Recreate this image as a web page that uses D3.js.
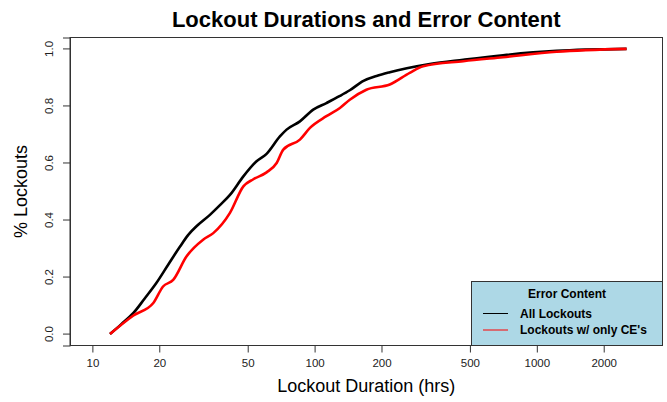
<!DOCTYPE html>
<html>
<head>
<meta charset="utf-8">
<script src="https://cdn.jsdelivr.net/npm/d3@7"></script>
<style>
  body { margin: 0; background: #fff; }
  svg { display: block; font-family: "Liberation Sans", Arial, Helvetica, sans-serif; }
</style>
</head>
<body>
<div id="chart"></div>
<script>
// ECDF readings, all lockouts
const allHours = [12.0, 13.5, 15.3, 17.2, 19.4, 22.0, 24.8, 27.0, 29.4, 33.8, 37.5, 41.6, 47.8, 54.8, 60.8, 69.8, 74.8, 85.9, 98.6, 113, 130, 144, 166, 190, 218, 260, 330, 467, 705, 1227, 2535]
const allFrac = [0.0, 0.035, 0.074, 0.125, 0.179, 0.245, 0.307, 0.348, 0.378, 0.418, 0.452, 0.488, 0.553, 0.606, 0.632, 0.693, 0.717, 0.746, 0.787, 0.81, 0.835, 0.855, 0.888, 0.905, 0.918, 0.932, 0.947, 0.962, 0.978, 0.993, 1.0]

// lockouts with only CE's
const ceHours = [12.0, 15.3, 18.8, 20.8, 23.1, 26.5, 31.5, 35.0, 41.6, 47.8, 53.0, 60.8, 67.5, 72.3, 85.9, 95.3, 113, 130, 144, 171, 218, 268, 308, 467, 705, 1227, 2535]
const ceFrac = [0.0, 0.065, 0.109, 0.167, 0.19, 0.272, 0.331, 0.354, 0.425, 0.518, 0.543, 0.567, 0.6, 0.647, 0.682, 0.723, 0.764, 0.793, 0.822, 0.857, 0.875, 0.916, 0.939, 0.957, 0.971, 0.99, 1.0]

const xTicks = [10, 20, 50, 100, 200, 500, 1000, 2000]
const yTicks = [0, 0.2, 0.4, 0.6, 0.8, 1.0]

const legendLabels = ['All Lockouts', "Lockouts w/ only CE's"]
const seriesColors = ['#000000', '#ff0000']

const width = 667
const height = 402
const margin = { top: 37.5, right: 4.5, bottom: 56.5, left: 70 }
const plotW = width - margin.left - margin.right
const plotH = height - margin.top - margin.bottom

const svg = d3.select('#chart')
  .append('svg')
  .attr('width', width)
  .attr('height', height)

const g = svg.append('g')
  .attr('transform', `translate(${margin.left},${margin.top})`)

// R-style 4% padding on the log range
const x = d3.scaleLog()
  .domain([7.93, 3678])
  .range([0, plotW])

const y = d3.scaleLinear()
  .domain([-0.04, 1.04])
  .range([plotH, 0])

const line = d3.line()
  .x(d => x(d[0]))
  .y(d => y(d[1]))
  .curve(d3.curveMonotoneX)

const series = [
  allHours.map((h, i) => [h, allFrac[i]]),
  ceHours.map((h, i) => [h, ceFrac[i]])
]

series.forEach((s, i) => {
  g.append('path')
    .datum(s)
    .attr('fill', 'none')
    .attr('stroke', seriesColors[i])
    .attr('stroke-width', 2.6)
    .attr('stroke-linejoin', 'round')
    .attr('d', line)
})

// axes
const xAxis = g.append('g')
  .attr('transform', `translate(0,${plotH})`)
  .call(d3.axisBottom(x).tickValues(xTicks).tickFormat(d3.format('d')).tickSize(7).tickPadding(6))

xAxis.select('.domain')
  .attr('d', `M${x(xTicks[0])},0H${x(xTicks[xTicks.length - 1])}`)

xAxis.selectAll('text')
  .attr('font-size', 11.5)
  .attr('fill', '#222')
  .attr('font-family', '"Liberation Sans", Arial, sans-serif')

const yAxis = g.append('g')
  .call(d3.axisLeft(y).tickValues(yTicks).tickFormat(d3.format('.1f')).tickSize(7).tickPadding(0))

yAxis.selectAll('text')
  .attr('font-size', 11.5)
  .attr('fill', '#222')
  .attr('font-family', '"Liberation Sans", Arial, sans-serif')
  .attr('text-anchor', 'middle')
  .attr('x', -17)
  .attr('dy', 0)
  .attr('transform', d => `rotate(-90,-17,${y(d)})`)
  .attr('y', d => y(d))

yAxis.selectAll('.tick').attr('transform', null)
yAxis.selectAll('.tick line')
  .attr('y1', d => y(d))
  .attr('y2', d => y(d))

svg.selectAll('.domain, .tick line').attr('stroke', '#333')

// frame
g.append('rect')
  .attr('width', plotW)
  .attr('height', plotH)
  .attr('fill', 'none')
  .attr('stroke', '#333')
  .attr('stroke-width', 1)

// legend (bottom right, R style)
const legW = 191
const legH = 64
const leg = g.append('g')
  .attr('transform', `translate(${plotW - legW},${plotH - legH})`)

leg.append('rect')
  .attr('width', legW)
  .attr('height', legH)
  .attr('fill', '#add8e6')
  .attr('stroke', '#333')

leg.append('text')
  .attr('x', legW / 2)
  .attr('y', 16)
  .attr('text-anchor', 'middle')
  .attr('font-size', 12)
  .attr('font-weight', 'bold')
  .text('Error Content')

legendLabels.forEach((lab, i) => {
  const ly = 32 + i * 16.5
  leg.append('line')
    .attr('x1', 11.5)
    .attr('x2', 36.5)
    .attr('y1', ly)
    .attr('y2', ly)
    .attr('stroke', seriesColors[i])
    .attr('stroke-width', 1)
  leg.append('text')
    .attr('x', 48.5)
    .attr('y', ly + 4.3)
    .attr('font-size', 12)
    .attr('font-weight', 'bold')
    .text(lab)
})

// titles
svg.append('text')
  .attr('x', margin.left + plotW / 2)
  .attr('y', 27)
  .attr('text-anchor', 'middle')
  .attr('font-size', 22)
  .attr('font-weight', 'bold')
  .text('Lockout Durations and Error Content')

svg.append('text')
  .attr('x', margin.left + plotW / 2)
  .attr('y', 392)
  .attr('text-anchor', 'middle')
  .attr('font-size', 18)
  .text('Lockout Duration (hrs)')

svg.append('text')
  .attr('transform', `translate(27,${margin.top + y(0.5)}) rotate(-90)`)
  .attr('text-anchor', 'middle')
  .attr('font-size', 18)
  .text('% Lockouts')
</script>
</body>
</html>
